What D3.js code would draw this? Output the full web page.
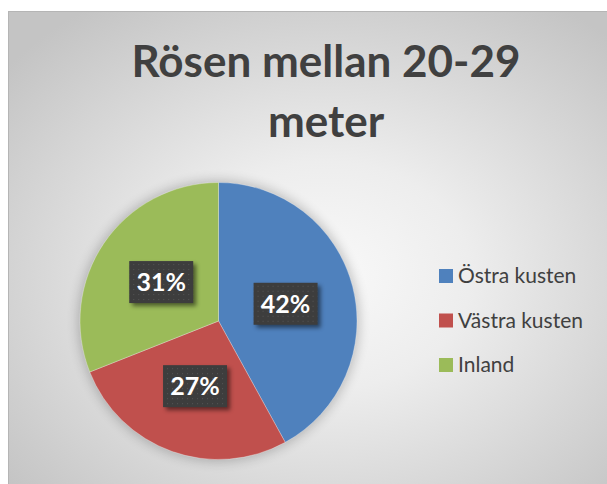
<!DOCTYPE html>
<html>
<head>
<meta charset="utf-8">
<script src="https://cdn.jsdelivr.net/npm/d3@7"></script>
<style>
  body { margin: 0; background: #fff; }
  svg { display: block; }
</style>
</head>
<body>
<svg id="chart" width="607" height="484"></svg>
<script>
// data
var categories = ["Östra kusten", "Västra kusten", "Inland"];
var shares = [42, 27, 31];
var colors = ["#4f81bd", "#c0504d", "#9bbb59"];
var titleLines = ["Rösen mellan 20-29", "meter"];

var svg = d3.select("#chart");
var defs = svg.append("defs");

// background gradient
var bg = defs.append("radialGradient")
  .attr("id", "bgGrad")
  .attr("cx", "52%").attr("cy", "55%").attr("r", "68%");
bg.append("stop").attr("offset", "0%").attr("stop-color", "#f9f9f9");
bg.append("stop").attr("offset", "35%").attr("stop-color", "#ededed");
bg.append("stop").attr("offset", "100%").attr("stop-color", "#c4c4c4");

// dotted pattern for labels
var pat = defs.append("pattern")
  .attr("id", "dots")
  .attr("width", 5).attr("height", 5)
  .attr("patternUnits", "userSpaceOnUse");
pat.append("rect").attr("width", 5).attr("height", 5).attr("fill", "#3d3d3d");
pat.append("rect").attr("x", 2).attr("y", 2).attr("width", 1).attr("height", 1).attr("fill", "#555");

var blur = defs.append("filter").attr("id", "pieShadow")
  .attr("x", "-20%").attr("y", "-20%").attr("width", "140%").attr("height", "140%");
blur.append("feGaussianBlur").attr("stdDeviation", 6);

var boxShadow = defs.append("filter").attr("id", "boxShadow")
  .attr("x", "-30%").attr("y", "-30%").attr("width", "160%").attr("height", "160%");
boxShadow.append("feGaussianBlur").attr("stdDeviation", 2);

// chart area
svg.append("rect")
  .attr("x", 8.5).attr("y", 11.5)
  .attr("width", 610).attr("height", 480)
  .attr("fill", "url(#bgGrad)")
  .attr("stroke", "#b5b5b5");

// title
svg.append("g")
  .attr("font-family", "Lato, 'Open Sans', sans-serif")
  .attr("font-weight", "bold")
  .attr("font-size", 44)
  .attr("fill", "#404040")
  .attr("text-anchor", "middle")
  .selectAll("text")
  .data(titleLines)
  .enter()
  .append("text")
  .attr("x", 326)
  .attr("y", function(d, i) { return 77 + i * 60; })
  .text(function(d) { return d; });

// pie
var cx = 218.5, cy = 321, radius = 138.5;
var pie = d3.pie().sort(null).value(function(d) { return d; });
var arc = d3.arc().innerRadius(0).outerRadius(radius);
var arcs = pie(shares);

var g = svg.append("g").attr("transform", "translate(" + cx + "," + cy + ")");

g.append("circle")
  .attr("r", radius + 2)
  .attr("fill", "#000")
  .attr("opacity", 0.22)
  .attr("filter", "url(#pieShadow)");

g.selectAll("path")
  .data(arcs)
  .enter()
  .append("path")
  .attr("d", arc)
  .attr("fill", function(d, i) { return colors[i]; })
  .attr("stroke", "#fff")
  .attr("stroke-opacity", 0.4)
  .attr("stroke-width", 0.75);

// data labels
var bw = 64, bh = 42;
var labels = g.selectAll("g.lbl")
  .data(arcs)
  .enter()
  .append("g")
  .attr("class", "lbl")
  .attr("transform", function(d) {
    var c = arc.centroid(d);
    return "translate(" + c[0] + "," + c[1] + ")";
  });

labels.append("rect")
  .attr("x", -bw / 2 + 3).attr("y", -bh / 2 + 3)
  .attr("width", bw).attr("height", bh)
  .attr("fill", "#000").attr("opacity", 0.5)
  .attr("filter", "url(#boxShadow)");

labels.append("rect")
  .attr("x", -bw / 2).attr("y", -bh / 2)
  .attr("width", bw).attr("height", bh)
  .attr("fill", "url(#dots)");

labels.append("text")
  .attr("text-anchor", "middle")
  .attr("dy", "0.36em")
  .attr("fill", "#fff")
  .attr("font-family", "Lato, 'Open Sans', sans-serif")
  .attr("font-weight", "bold")
  .attr("font-size", 25)
  .text(function(d) { return d.data + "%"; });

// legend
var legend = svg.append("g")
  .attr("font-family", "Lato, 'Open Sans', sans-serif")
  .attr("font-size", 21)
  .attr("fill", "#404040")
  .selectAll("g")
  .data(categories)
  .enter()
  .append("g")
  .attr("transform", function(d, i) { return "translate(439," + (276 + i * 44.5) + ")"; });

legend.append("rect")
  .attr("y", -7)
  .attr("width", 14).attr("height", 14)
  .attr("fill", function(d, i) { return colors[i]; });

legend.append("text")
  .attr("x", 19)
  .attr("dy", "0.35em")
  .text(function(d) { return d; });
</script>
</body>
</html>
